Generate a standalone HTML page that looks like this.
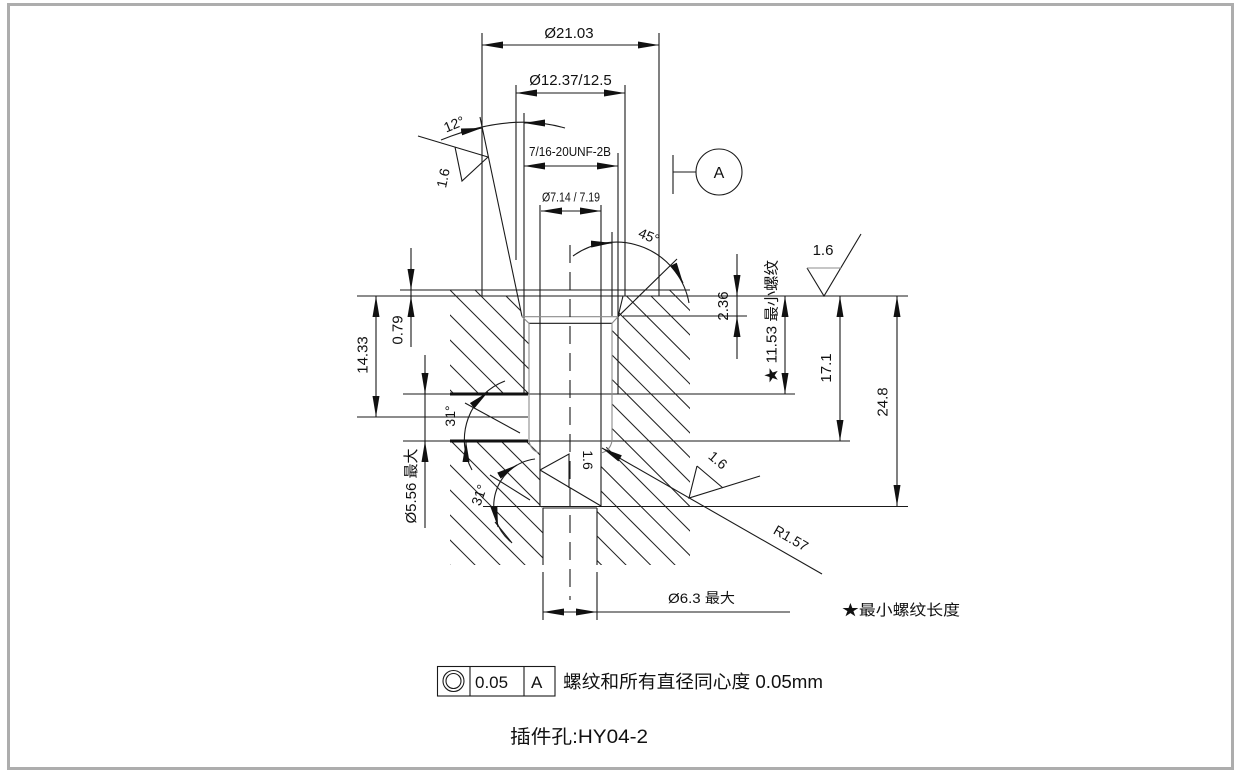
<!DOCTYPE html>
<html><head><meta charset="utf-8"><style>
html,body{margin:0;padding:0;background:#fff;}
svg{display:block;}
text{font-family:"Liberation Sans","Noto Sans CJK SC",sans-serif;fill:#111;}
</style></head><body>
<svg width="1239" height="775" viewBox="0 0 1239 775" xmlns="http://www.w3.org/2000/svg">
<defs>
<marker id="a" viewBox="0 0 21 7" refX="21" refY="3.5" markerWidth="21" markerHeight="7" markerUnits="userSpaceOnUse" orient="auto-start-reverse"><path d="M0,0L21,3.5L0,7z" fill="#111"/></marker>
<clipPath id="hl"><polygon points="450,290 482,290 482,296 517,296 522,316 529,323 529,394 450,394"/><polygon points="450,441 529,441 540,453 540,506 543,508 543,565 450,565"/></clipPath>
<clipPath id="hr"><polygon points="623,296 659,296 659,290 690,290 690,565 597,565 597,508 601,506 601,453 612,441 612,323 618,316"/></clipPath>
</defs>
<rect x="8.5" y="4.5" width="1224" height="764" fill="none" stroke="#adadad" stroke-width="3"/>

<!-- hatching -->
<g clip-path="url(#hl)" stroke="#222" stroke-width="1">
<line x1="165" y1="280" x2="465" y2="580"/><line x1="190" y1="280" x2="490" y2="580"/>
<line x1="215" y1="280" x2="515" y2="580"/><line x1="240" y1="280" x2="540" y2="580"/>
<line x1="265" y1="280" x2="565" y2="580"/><line x1="290" y1="280" x2="590" y2="580"/>
<line x1="315" y1="280" x2="615" y2="580"/><line x1="340" y1="280" x2="640" y2="580"/>
<line x1="365" y1="280" x2="665" y2="580"/><line x1="390" y1="280" x2="690" y2="580"/>
<line x1="415" y1="280" x2="715" y2="580"/><line x1="440" y1="280" x2="740" y2="580"/>
<line x1="465" y1="280" x2="765" y2="580"/><line x1="490" y1="280" x2="790" y2="580"/>
<line x1="515" y1="280" x2="815" y2="580"/><line x1="540" y1="280" x2="840" y2="580"/>
</g>
<g clip-path="url(#hr)" stroke="#222" stroke-width="1">
<line x1="292" y1="280" x2="592" y2="580"/><line x1="316.5" y1="280" x2="616.5" y2="580"/>
<line x1="341" y1="280" x2="641" y2="580"/><line x1="365.5" y1="280" x2="665.5" y2="580"/>
<line x1="390" y1="280" x2="690" y2="580"/><line x1="414.5" y1="280" x2="714.5" y2="580"/>
<line x1="439" y1="280" x2="739" y2="580"/><line x1="463.5" y1="280" x2="763.5" y2="580"/>
<line x1="488" y1="280" x2="788" y2="580"/><line x1="512.5" y1="280" x2="812.5" y2="580"/>
<line x1="537" y1="280" x2="837" y2="580"/><line x1="561.5" y1="280" x2="861.5" y2="580"/>
<line x1="586" y1="280" x2="886" y2="580"/><line x1="610.5" y1="280" x2="910.5" y2="580"/>
<line x1="635" y1="280" x2="935" y2="580"/><line x1="659.5" y1="280" x2="959.5" y2="580"/>
<line x1="684" y1="280" x2="984" y2="580"/>
</g>

<!-- main lines -->
<g stroke="#1a1a1a" stroke-width="1.1" fill="none">
<path d="M482,33V296M659,33V296M516,85V260M625,85V296M524,113V394M618,153V394M612,232V316M540,205V506M601,205V506M543,508V565M597,508V565M543,572V620M597,572V620"/>
<path d="M400,290H690M357,296H908M623,316H747M529,323.3H612M403,394H795M357,417H528M403,441H850M483,506.5H908M543,508H597"/>
<path d="M480,117L522,316.5M623,296L618,316.7M618,316.7L677,259"/>
<!-- datum A -->
<path d="M673,155V194M673,172H696"/>
<circle cx="719" cy="172" r="23"/>
<!-- 12 deg -->
<path d="M441,140Q510,112 565,128"/>
<path d="M418,136L488,157M455,147L462,181L488,157"/>
<!-- 45 deg -->
<path d="M573,256A74,74 0 0 1 689,303"/>
<!-- top right surface -->
<path d="M807,268L824,296L861,234"/>
<!-- 31 upper -->
<path d="M505,381A63,63 0 0 0 472,470"/>
<path d="M465,403L520,433"/>
<!-- 31 lower -->
<path d="M535,459A47,47 0 0 0 511,542"/>
<path d="M490,475L530,500M495,522L512,543"/>
<!-- bore symbol -->
<path d="M540,470L569,454V488M540,470L601,506"/>
<!-- lower right surface -->
<path d="M697,466L689,498L760,476M697,466L723,488"/>
<!-- plain dim lines -->
<path d="M411,248V347M425,355V528M737,254V359M597,612H790"/>
</g>
<path d="M450,394H528M450,441H528" stroke="#111" stroke-width="3"/>
<g stroke="#8c8c8c" stroke-width="1.1" fill="none">
<path d="M522,316.7H618M529,323V441M612,323V441M522,316.7L529,323.3M618,316.7L612,323.3M529,441Q531,451 540,453M612,441Q610,451 601,453M807,268H841"/>
</g>
<path d="M570,245V600" stroke="#1a1a1a" stroke-width="1.1" stroke-dasharray="18 9"/>

<!-- arrows -->
<g stroke="#1a1a1a" stroke-width="1.1" fill="none" marker-end="url(#a)">
<path d="M482,45H659" marker-start="url(#a)"/>
<path d="M516,93H625" marker-start="url(#a)"/>
<path d="M524,166H618" marker-start="url(#a)"/>
<path d="M541,211H601" marker-start="url(#a)"/>
<path d="M376,296V417" marker-start="url(#a)"/>
<path d="M785,296V394" marker-start="url(#a)"/>
<path d="M840,296V441" marker-start="url(#a)"/>
<path d="M897,296V506" marker-start="url(#a)"/>
<path d="M543,612H597" marker-start="url(#a)"/>
<path d="M411,268V290"/><path d="M411,318V296"/>
<path d="M425,372V394"/><path d="M425,462V441"/>
<path d="M737,274V296"/><path d="M737,338V316"/>
<path d="M461,132L482,128"/><path d="M545,123L524,123"/>
<path d="M592,244L612,243"/><path d="M674,265L683,283"/>
<path d="M473,405L488,392"/><path d="M466,462L466,441"/>
<path d="M500,475L517,465"/><path d="M494,507L498,527"/>
<path d="M822,574L602,448"/>
</g>

<!-- texts -->
<g font-size="15" text-anchor="middle">
<text x="569" y="38">Ø21.03</text>
<text x="570.5" y="85">Ø12.37/12.5</text>
<text x="570" y="156" font-size="13" textLength="82" lengthAdjust="spacingAndGlyphs">7/16-20UNF-2B</text>
<text x="571" y="201.5" font-size="13" textLength="58" lengthAdjust="spacingAndGlyphs">Ø7.14 / 7.19</text>
<text x="719" y="178" font-size="16">A</text>
<text transform="translate(454,124) rotate(-22)" y="5" font-size="14">12°</text>
<text transform="translate(443,178) rotate(-78)" y="5" font-size="14">1.6</text>
<text transform="translate(649,236) rotate(22)" y="5" font-size="14">45°</text>
<text x="823" y="255">1.6</text>
<text transform="translate(397.5,330) rotate(-90)" y="5">0.79</text>
<text transform="translate(362.5,355) rotate(-90)" y="5">14.33</text>
<text transform="translate(411,486) rotate(-90)" y="5" textLength="75" lengthAdjust="spacingAndGlyphs">Ø5.56 最大</text>
<text transform="translate(723,306) rotate(-90)" y="5">2.36</text>
<text transform="translate(771.5,321.5) rotate(-90)" y="5" textLength="123" lengthAdjust="spacingAndGlyphs">★ 11.53 最小螺纹</text>
<text transform="translate(826,368) rotate(-90)" y="5">17.1</text>
<text transform="translate(882.5,402) rotate(-90)" y="5">24.8</text>
<text transform="translate(450,416) rotate(-90)" y="5" font-size="14">31°</text>
<text transform="translate(479,495) rotate(-70)" y="5" font-size="14">31°</text>
<text transform="translate(588,460) rotate(90)" y="5" font-size="14">1.6</text>
<text transform="translate(718,460) rotate(40)" y="5" font-size="14">1.6</text>
<text transform="translate(791,538) rotate(30)" y="5" font-size="14">R1.57</text>
<text x="701.5" y="603" font-size="14" textLength="67" lengthAdjust="spacingAndGlyphs">Ø6.3 最大</text>
</g>
<text x="842" y="615" font-size="15" textLength="118" lengthAdjust="spacingAndGlyphs">★最小螺纹长度</text>

<!-- feature control frame -->
<g stroke="#1a1a1a" stroke-width="1.1" fill="none">
<rect x="437.5" y="666.5" width="117.5" height="29.5"/>
<path d="M470,666.5V696M524,666.5V696"/>
<circle cx="453.5" cy="681" r="10.5"/>
<circle cx="453.5" cy="681" r="7.5"/>
</g>
<text x="475" y="688" font-size="17">0.05</text>
<text x="531" y="688" font-size="17">A</text>
<text x="563" y="688" font-size="18" textLength="260" lengthAdjust="spacingAndGlyphs">螺纹和所有直径同心度 0.05mm</text>
<text x="510" y="743" font-size="19" textLength="138" lengthAdjust="spacingAndGlyphs">插件孔:HY04-2</text>
</svg>
</body></html>
